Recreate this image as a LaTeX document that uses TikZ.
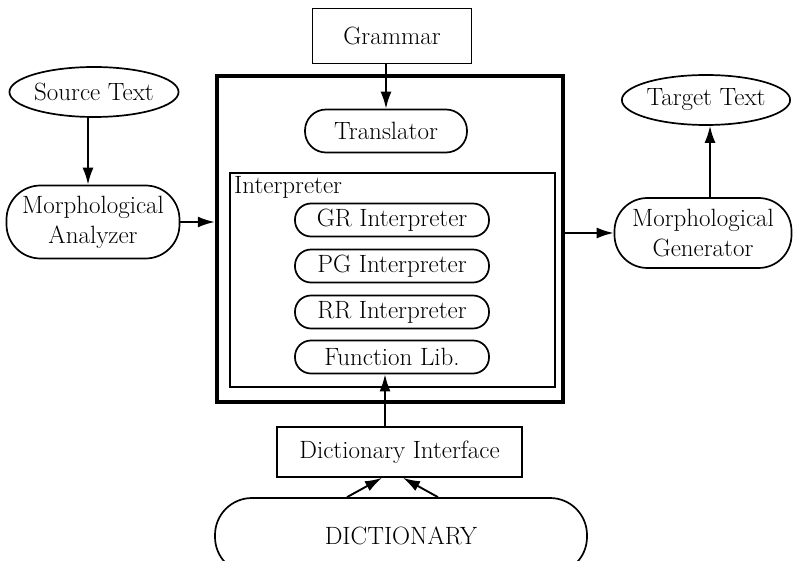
\documentclass[tikz,border=0pt]{standalone}
\usetikzlibrary{arrows.meta,shapes.geometric}
\begin{document}
\begin{tikzpicture}[x=1pt,y=-1pt,
  every node/.style={font=\fontsize{25}{30}\selectfont, inner sep=0pt, align=center},
  box/.style={draw, line width=1.7pt, rectangle},
  pill/.style={draw, line width=1.7pt, rectangle, rounded corners=#1},
  oval/.style={draw, ellipse, line width=1.7pt},
  arr/.style={line width=1.9pt, -{Latex[length=17pt,width=11pt]}}]
\useasboundingbox[fill=white] (0,0) rectangle (793,561);

\node[box, minimum width=159pt, minimum height=55pt] (grammar) at (392,36) {Grammar};
\node[draw, line width=4.5pt, minimum width=346pt, minimum height=326pt] (outer) at (390,239) {};
\node[box, minimum width=325pt, minimum height=214pt] (inner) at (392.5,280) {};
\node[anchor=west] (interp) at (234,187) {Interpreter};
\node[pill=21pt, minimum width=162pt, minimum height=43pt] (translator) at (386,131) {Translator};
\node[pill=16pt, minimum width=194pt, minimum height=33pt] (gr) at (392,220) {GR Interpreter};
\node[pill=16pt, minimum width=194pt, minimum height=33pt] (pg) at (392,266) {PG Interpreter};
\node[pill=16pt, minimum width=194pt, minimum height=33pt] (rr) at (392,312) {RR Interpreter};
\node[pill=16pt, minimum width=194pt, minimum height=33pt] (fl) at (392,357) {Function Lib.};

\node[oval, minimum width=158pt, minimum height=50pt] (source) at (94,92) {Source Text};
\node[pill=34pt, minimum width=173pt, minimum height=73pt] (ma) at (93,222) {Morphological\\Analyzer};
\node[pill=33pt, minimum width=177pt, minimum height=70pt] (mg) at (703,233) {Morphological\\Generator};
\node[oval, minimum width=158pt, minimum height=50pt] (target) at (706,100) {Target Text};

\node[box, minimum width=245pt, minimum height=50pt] (di) at (399.5,452) {Dictionary Interface};
\node[pill=37pt, minimum width=372pt, minimum height=76pt] (dict) at (401,536) {DICTIONARY};

\draw[arr] (grammar.south -| translator.north) -- (translator.north);
\draw[arr] ([xshift=-6pt]source.south) -- ([xshift=-5pt]ma.north);
\draw[arr] (ma.east) -- (ma.east -| outer.west);
\draw[arr] (outer.east |- mg.west) -- (mg.west);
\draw[arr] ([xshift=7pt]mg.north) -- ([xshift=4pt]target.south);
\draw[arr] ([xshift=-14.5pt]di.north) -- ([xshift=-7pt]fl.south);
\draw[arr] ([xshift=-54pt]dict.north) -- ([xshift=-17.5pt]di.south);
\draw[arr] ([xshift=37pt]dict.north) -- ([xshift=3.5pt]di.south);
\end{tikzpicture}
\end{document}
